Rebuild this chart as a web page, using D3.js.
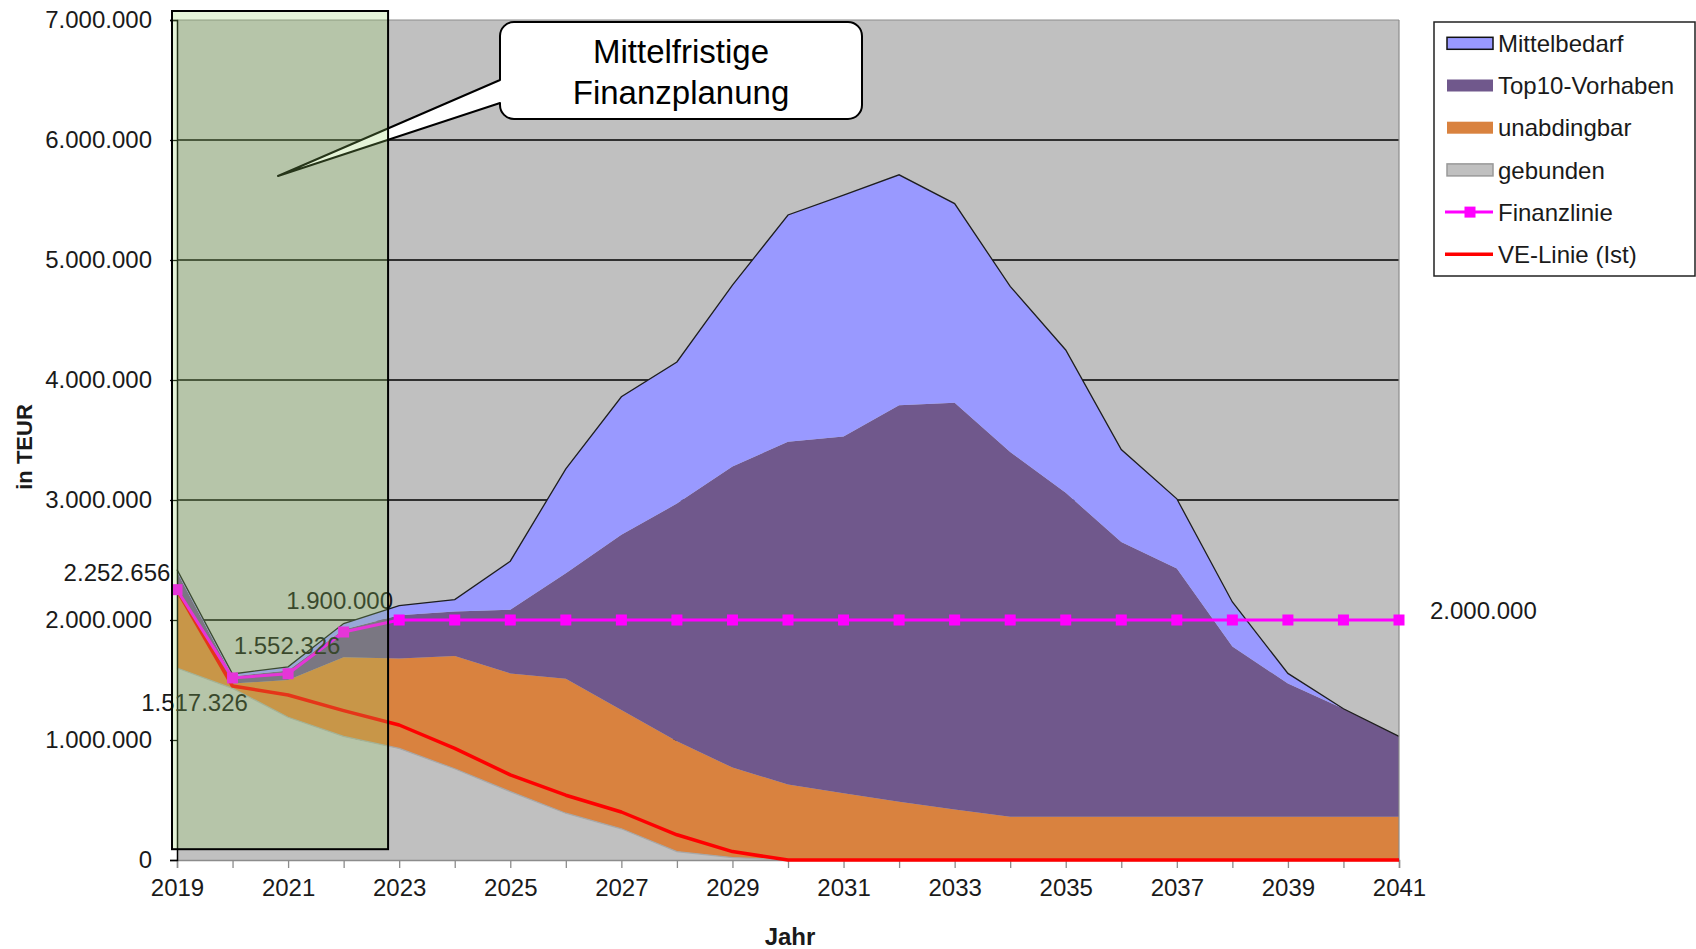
<!DOCTYPE html>
<html>
<head>
<meta charset="utf-8">
<script src="https://cdn.jsdelivr.net/npm/d3@7"></script>
<style>
  body { margin: 0; background: #fff; }
  svg { display: block; font-family: "Liberation Sans", Arial, sans-serif; }
</style>
</head>
<body>
<svg id="chart" width="1696" height="949"></svg>
<script>
// Jahre der Planung
const years = [2019, 2020, 2021, 2022, 2023, 2024, 2025, 2026, 2027, 2028, 2029, 2030,
               2031, 2032, 2033, 2034, 2035, 2036, 2037, 2038, 2039, 2040, 2041];

// Gestapelte Bedarfe in TEUR
const gebunden = [1600000, 1430000, 1190000, 1030000, 930000, 760000, 570000, 390000, 260000, 70000, 20000, 0,
                  0, 0, 0, 0, 0, 0, 0, 0, 0, 0, 0];
const unabdingbar = [650000, 40000, 310000, 660000, 750000, 940000, 985000, 1120000, 990000, 920000, 750000, 630000,
                     556000, 486000, 420000, 360000, 360000, 360000, 360000, 360000, 360000, 360000, 360000];
const top10 = [150000, 60000, 80000, 230000, 360000, 370000, 530000, 880000, 1460000, 1980000, 2510000, 2855000,
               2974000, 3304000, 3390000, 3040000, 2700000, 2290000, 2070000, 1420000, 1110000, 900000, 670000];
const mittelbedarf = [20000, 20000, 30000, 50000, 80000, 100000, 405000, 870000, 1150000, 1180000, 1510000, 1890000,
                      2010000, 1920000, 1660000, 1380000, 1190000, 770000, 580000, 370000, 85000, 0, 0];

// Linien
const finanzlinie = [2252656, 1517326, 1552326, 1900000, 2000000, 2000000, 2000000, 2000000, 2000000, 2000000, 2000000, 2000000,
                     2000000, 2000000, 2000000, 2000000, 2000000, 2000000, 2000000, 2000000, 2000000, 2000000, 2000000];
const veLinie = [2250000, 1450000, 1375000, 1245000, 1125000, 930000, 710000, 540000, 400000, 210000, 70000, 0,
                 0, 0, 0, 0, 0, 0, 0, 0, 0, 0, 0];

// Achsen
const yTicks = [0, 1000000, 2000000, 3000000, 4000000, 5000000, 6000000, 7000000];
const xLabelYears = [2019, 2021, 2023, 2025, 2027, 2029, 2031, 2033, 2035, 2037, 2039, 2041];

// Beschriftete Punkte der Finanzlinie
const labelledYears = [2019, 2020, 2021, 2022, 2041];

const seriesKeys = ["gebunden", "unabdingbar", "top10", "mittelbedarf"];
const seriesNames = { mittelbedarf: "Mittelbedarf", top10: "Top10-Vorhaben", unabdingbar: "unabdingbar", gebunden: "gebunden" };
const colors = {
  mittelbedarf: "#9999ff", top10: "#70588c", unabdingbar: "#d9823f", gebunden: "#c0c0c0",
  finanz: "#ff00ff", ve: "#ff0000", plotBg: "#c0c0c0", text: "#1a1a1a"
};

const svg = d3.select("#chart");
const P = { left: 177, right: 1399, top: 20, bottom: 860 };

const x = d3.scaleLinear().domain([2019, 2041]).range([P.left, P.right]);
const y = d3.scaleLinear().domain([0, 7000000]).range([P.bottom, P.top]);
const de = d3.formatLocale({ decimal: ",", thousands: ".", grouping: [3], currency: ["", "€"] });
const fmt = de.format(",d");

// Zeichenfläche
svg.append("rect")
  .attr("x", P.left).attr("y", P.top)
  .attr("width", P.right - P.left).attr("height", P.bottom - P.top)
  .attr("fill", colors.plotBg);

// Gitternetz
svg.append("g").selectAll("line")
  .data(yTicks.filter(v => v > 0 && v < 7000000))
  .join("line")
  .attr("x1", P.left).attr("x2", P.right)
  .attr("y1", d => y(d)).attr("y2", d => y(d))
  .attr("stroke", "#000").attr("stroke-width", 1.5);

// Gestapelte Flächen
const rows = years.map((yr, i) => ({
  year: yr, gebunden: gebunden[i], unabdingbar: unabdingbar[i], top10: top10[i], mittelbedarf: mittelbedarf[i]
}));
const layers = d3.stack().keys(seriesKeys)(rows);
const area = d3.area().x(d => x(d.data.year)).y0(d => y(d[0])).y1(d => y(d[1]));
const topEdge = d3.line().x(d => x(d.data.year)).y(d => y(d[1]));

svg.append("g").selectAll("path")
  .data(layers)
  .join("path")
  .attr("d", area)
  .attr("fill", d => colors[d.key]);

// Konturen: gebunden (grau) und Mittelbedarf (schwarz)
svg.append("path")
  .attr("d", topEdge(layers[0]))
  .attr("fill", "none").attr("stroke", "#a8a8a8").attr("stroke-width", 1.2);
svg.append("path")
  .attr("d", topEdge(layers[3]))
  .attr("fill", "none").attr("stroke", "#1e1e1e").attr("stroke-width", 1.3);

// Rahmen der Zeichenfläche
svg.append("line").attr("x1", P.left).attr("x2", P.right).attr("y1", P.top).attr("y2", P.top)
  .attr("stroke", "#8c8c8c").attr("stroke-width", 1);
svg.append("line").attr("x1", P.right).attr("x2", P.right).attr("y1", P.top).attr("y2", P.bottom)
  .attr("stroke", "#8c8c8c").attr("stroke-width", 1.2);

// X-Achse
const xAxis = d3.axisBottom(x)
  .tickValues(years)
  .tickSize(8)
  .tickFormat(d => xLabelYears.includes(d) ? String(d) : "");
const gx = svg.append("g").attr("transform", `translate(0,${P.bottom})`).call(xAxis);
gx.select(".domain").attr("stroke", "#8c8c8c").attr("stroke-width", 1.5);
gx.selectAll(".tick line").attr("stroke", "#8c8c8c").attr("stroke-width", 1.3);
gx.selectAll(".tick text")
  .attr("font-size", 24).attr("fill", colors.text)
  .attr("font-family", "Liberation Sans, Arial, sans-serif")
  .attr("y", 19).attr("dy", "0.71em");

// Y-Achse
const yAxis = d3.axisLeft(y).tickValues(yTicks).tickSize(7).tickPadding(18).tickFormat(fmt);
const gy = svg.append("g").attr("transform", `translate(${P.left},0)`).call(yAxis);
gy.select(".domain").attr("stroke", "#000").attr("stroke-width", 1.5);
gy.selectAll(".tick line").attr("stroke", "#000").attr("stroke-width", 1.3);
gy.selectAll(".tick text")
  .attr("font-size", 24).attr("fill", colors.text)
  .attr("font-family", "Liberation Sans, Arial, sans-serif");

// VE-Linie (Ist)
const lineGen = (vals) => d3.line().x((d, i) => x(years[i])).y(d => y(d))(vals);
svg.append("path")
  .attr("d", lineGen(veLinie))
  .attr("fill", "none").attr("stroke", colors.ve).attr("stroke-width", 3.5)
  .attr("stroke-linejoin", "round");

// Finanzlinie mit Markern
svg.append("path")
  .attr("d", lineGen(finanzlinie))
  .attr("fill", "none").attr("stroke", colors.finanz).attr("stroke-width", 3);
const ms = 11;
svg.append("g").selectAll("rect")
  .data(years.map((yr, i) => ({ year: yr, v: finanzlinie[i] })))
  .join("rect")
  .attr("x", d => x(d.year) - ms / 2).attr("y", d => y(d.v) - ms / 2)
  .attr("width", ms).attr("height", ms)
  .attr("fill", colors.finanz);

// Datenbeschriftungen der Finanzlinie
const labelPlacement = {
  2019: { dx: -60, dy: -17, anchor: "middle" },
  2020: { dx: -38, dy: 24, anchor: "middle" },
  2021: { dx: -1, dy: -28, anchor: "middle" },
  2022: { dx: -4, dy: -32, anchor: "middle" },
  2041: { dx: 31, dy: -10, anchor: "start" }
};
svg.append("g").selectAll("text")
  .data(labelledYears.map(yr => ({ year: yr, v: finanzlinie[years.indexOf(yr)] })))
  .join("text")
  .attr("x", d => x(d.year) + labelPlacement[d.year].dx)
  .attr("y", d => y(d.v) + labelPlacement[d.year].dy)
  .attr("dy", "0.36em")
  .attr("text-anchor", d => labelPlacement[d.year].anchor)
  .attr("font-size", 24).attr("fill", colors.text)
  .text(d => fmt(d.v));

// Legendenkasten „Mittelfristige Finanzplanung"
const cb = { x0: 500, x1: 862, y0: 22, y1: 119, r: 14, wa: 80, wb: 103, tipX: 278, tipY: 176 };
const cp = d3.path();
cp.moveTo(cb.x0 + cb.r, cb.y0);
cp.lineTo(cb.x1 - cb.r, cb.y0);
cp.arcTo(cb.x1, cb.y0, cb.x1, cb.y0 + cb.r, cb.r);
cp.lineTo(cb.x1, cb.y1 - cb.r);
cp.arcTo(cb.x1, cb.y1, cb.x1 - cb.r, cb.y1, cb.r);
cp.lineTo(cb.x0 + cb.r, cb.y1);
cp.arcTo(cb.x0, cb.y1, cb.x0, cb.y1 - cb.r, cb.r);
cp.lineTo(cb.x0, cb.wb);
cp.lineTo(cb.tipX, cb.tipY);
cp.lineTo(cb.x0, cb.wa);
cp.lineTo(cb.x0, cb.y0 + cb.r);
cp.arcTo(cb.x0, cb.y0, cb.x0 + cb.r, cb.y0, cb.r);
cp.closePath();
svg.append("path").attr("d", cp.toString())
  .attr("fill", "#fff").attr("stroke", "#000").attr("stroke-width", 2).attr("stroke-linejoin", "round");
const cx = (cb.x0 + cb.x1) / 2;
svg.append("text").attr("x", cx).attr("y", 51).attr("dy", "0.36em")
  .attr("text-anchor", "middle").attr("font-size", 33).attr("fill", "#000").text("Mittelfristige");
svg.append("text").attr("x", cx).attr("y", 92).attr("dy", "0.36em")
  .attr("text-anchor", "middle").attr("font-size", 33).attr("fill", "#000").text("Finanzplanung");

// Zeitraum der mittelfristigen Finanzplanung (halbtransparent)
svg.append("rect")
  .attr("x", x(2019) - 5).attr("y", P.top - 9)
  .attr("width", x(2022.8) - x(2019) + 5).attr("height", y(90000) - P.top + 9)
  .attr("fill", "rgb(150,212,100)").attr("fill-opacity", 0.25)
  .attr("stroke", "#000").attr("stroke-width", 2);

// Achsentitel
svg.append("text")
  .attr("transform", "translate(24,447) rotate(-90)")
  .attr("dy", "0.36em").attr("text-anchor", "middle")
  .attr("font-size", 22).attr("font-weight", "bold").attr("fill", colors.text)
  .text("in TEUR");
svg.append("text")
  .attr("x", 790).attr("y", 936).attr("dy", "0.36em").attr("text-anchor", "middle")
  .attr("font-size", 24).attr("font-weight", "bold").attr("fill", colors.text)
  .text("Jahr");

// Legende
const L = { x: 1434, y: 22, w: 261, h: 254, sx: 1447, sw: 46, tx: 1498, row0: 43.3, step: 42.2 };
const lg = svg.append("g");
lg.append("rect").attr("x", L.x).attr("y", L.y).attr("width", L.w).attr("height", L.h)
  .attr("fill", "#fff").attr("stroke", "#222").attr("stroke-width", 1.5);

const legendItems = [
  { name: seriesNames.mittelbedarf, type: "area", fill: colors.mittelbedarf, stroke: "#111" },
  { name: seriesNames.top10, type: "area", fill: colors.top10, stroke: null },
  { name: seriesNames.unabdingbar, type: "area", fill: colors.unabdingbar, stroke: null },
  { name: seriesNames.gebunden, type: "area", fill: colors.gebunden, stroke: "#999" },
  { name: "Finanzlinie", type: "marker", color: colors.finanz },
  { name: "VE-Linie (Ist)", type: "line", color: colors.ve }
];
legendItems.forEach((it, i) => {
  const cy = L.row0 + i * L.step;
  if (it.type === "area") {
    lg.append("rect").attr("x", L.sx).attr("y", cy - 6).attr("width", L.sw).attr("height", 12)
      .attr("fill", it.fill)
      .attr("stroke", it.stroke || "none").attr("stroke-width", it.stroke ? 1.5 : 0);
  } else {
    lg.append("line").attr("x1", L.sx - 2).attr("x2", L.sx + L.sw).attr("y1", cy).attr("y2", cy)
      .attr("stroke", it.color).attr("stroke-width", it.type === "line" ? 3.5 : 3);
    if (it.type === "marker") {
      lg.append("rect").attr("x", L.sx + L.sw / 2 - 5.5).attr("y", cy - 5.5)
        .attr("width", 11).attr("height", 11).attr("fill", it.color);
    }
  }
  lg.append("text").attr("x", L.tx).attr("y", cy).attr("dy", "0.36em")
    .attr("font-size", 24).attr("fill", colors.text).text(it.name);
});
</script>
</body>
</html>
